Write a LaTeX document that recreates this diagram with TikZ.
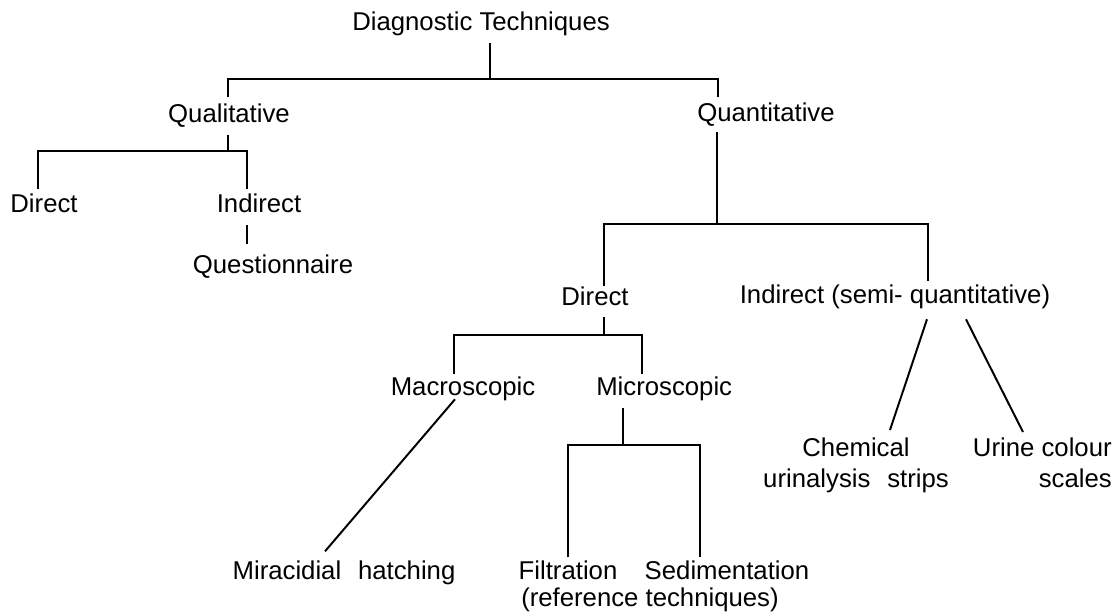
\documentclass[tikz,border=0pt]{standalone}
\usepackage{fontspec}
\setmainfont{Liberation Sans}
\usetikzlibrary{calc}

\begin{document}
\begin{tikzpicture}[
  x=0.025cm, y=-0.025cm,
  font=\fontsize{18.3}{22}\selectfont,
  term/.style={inner sep=0pt,anchor=base,text height=0.46cm,text depth=0pt},
  pair/.style={inner sep=0pt,anchor=north},
  link/.style={draw=black,line width=1.4pt}
]
\useasboundingbox[fill=white] (0,0) rectangle (1119,614);

\node[term] (diag) at (481,30) {Diagnostic Techniques};
\node[term] (qual) at (229,122) {Qualitative};
\node[term] (quan) at (766,121) {Quantitative};
\node[term] (qdir) at (44,212) {Direct};
\node[term] (qind) at (259,212) {Indirect};
\node[term] (quest) at (273,273) {Questionnaire};
\node[term] (ndir) at (595,305) {Direct};
\node[term] (nind) at (895,303) {Indirect (semi- quantitative)};
\node[term] (macro) at (463,395) {Macroscopic};
\node[term,anchor=base west] (micro) at (596,395) {Microscopic};
\node[pair,align=center] (chem) at (856,438) {Chemical\\urinalysis\hspace{0.42cm}strips};
\node[pair,anchor=north east,align=right] (urine) at (1112,438) {Urine colour\\scales};
\node[term] (mira) at (344,579) {Miracidial\hspace{0.42cm}hatching};
\node[term] (filt) at (568,579) {Filtration};
\node[term] (sedi) at (727,579) {Sedimentation};
\node[term] (reft) at (650,606) {(reference techniques)};

\draw[link] ($(diag.south)+(9,13)$) -- ($(diag.south)+(9,50)$);
\draw[link] ($(qual.north)+(-1,-6)$) |- ($(quan.north)+(-48,-23)$) -- ($(quan.north)+(-48,-5)$);
\draw[link] ($(qual.south)+(-1,13)$) -- ($(qual.south)+(-1,30)$);
\draw[link] ($(qdir.north)+(-6,-4)$) |- ($(qind.north)+(-12,-42)$) -- ($(qind.north)+(-12,-4)$);
\draw[link] ($(qind.south)+(-12,13)$) -- ($(quest.north)+(-26,-10)$);
\draw[link] ($(quan.south)+(-49,11)$) -- ($(quan.south)+(-49,104)$);
\draw[link] ($(ndir.north)+(9,0)$) |- ($(nind.north)+(33,-60)$) -- ($(nind.north)+(33,-3)$);
\draw[link] ($(ndir.south)+(9,12)$) -- ($(ndir.south)+(9,31)$);
\draw[link] ($(macro.north)+(-9,-2)$) |- ($(micro.north west)+(46,-41)$) -- ($(micro.north west)+(46,-2)$);
\draw[link] ($(macro.south)+(-8,4)$) -- ($(mira.north)+(-19,-9)$);
\draw[link] ($(micro.south west)+(27,13)$) -- ($(micro.south west)+(27,51)$);
\draw[link] ($(filt.north)+(0,-3)$) |- ($(sedi.north)+(-27,-115)$) -- ($(sedi.north)+(-27,-3)$);
\draw[link] ($(nind.south)+(32,16)$) -- ($(chem.north)+(34,-8)$);
\draw[link] ($(nind.south)+(71,16)$) -- ($(urine.north east)+(-89,-6)$);
\end{tikzpicture}
\end{document}
